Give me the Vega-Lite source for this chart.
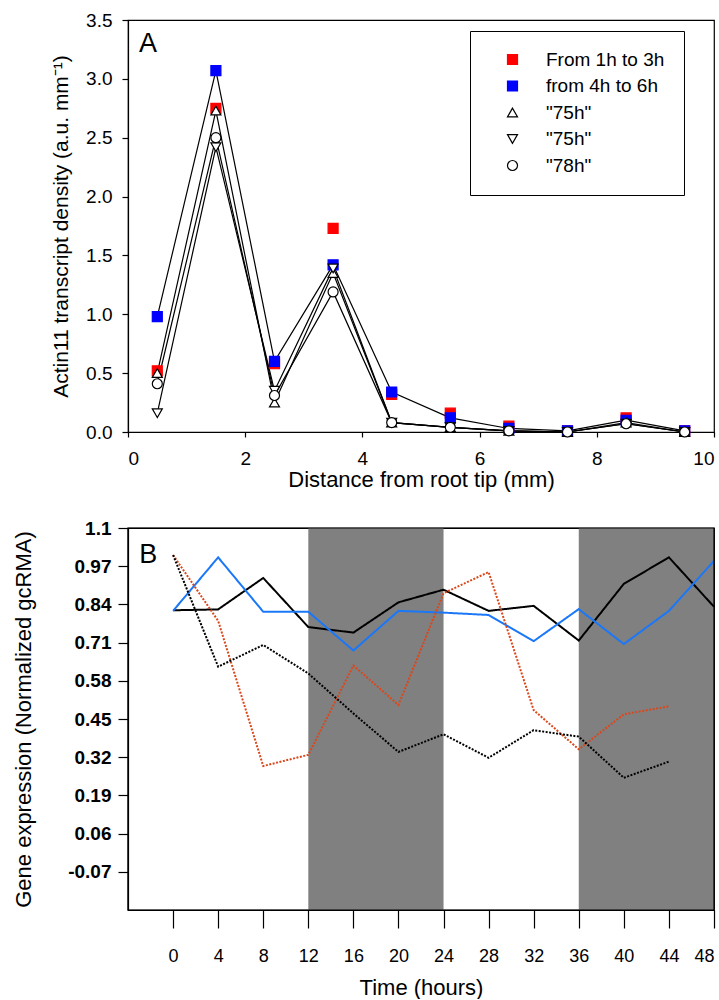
{
  "$schema": "https://vega.github.io/schema/vega-lite/v6.json",
  "padding": {"left": 12, "top": 10, "right": 0, "bottom": 0},
  "spacing": 27,
  "config": {
    "font": "Liberation Sans",
    "view": {"stroke": "black", "strokeWidth": 1.2},
    "axis": {"grid": false, "domainColor": "black", "tickColor": "black", "labelColor": "black", "titleColor": "black", "domainWidth": 1.2, "tickWidth": 1.2, "titleFontWeight": "normal", "labelFont": "Liberation Sans", "titleFont": "Liberation Sans", "zindex": 1},
    "legend": {"orient": "none", "legendX": 342, "legendY": 11, "strokeColor": "black", "fillColor": "white", "padding": 19, "labelFontSize": 19, "labelFont": "Liberation Sans", "labelColor": "black", "symbolSize": 100, "symbolStrokeWidth": 1.2, "rowPadding": 6.5, "symbolOffset": 14, "labelOffset": 24, "labelLimit": 300}
  },
  "vconcat": [
    {
      "width": 586,
      "height": 412,
      "data": {"values": [
        {"series": "a", "x": 0.5, "y": 0.52}, {"series": "a", "x": 1.5, "y": 2.75}, {"series": "a", "x": 2.5, "y": 0.58}, {"series": "a", "x": 3.5, "y": 1.73}, {"series": "a", "x": 4.5, "y": 0.32},
        {"series": "a", "x": 5.5, "y": 0.16}, {"series": "a", "x": 6.5, "y": 0.05}, {"series": "a", "x": 7.5, "y": 0.01}, {"series": "a", "x": 8.5, "y": 0.12}, {"series": "a", "x": 9.5, "y": 0.01},
        {"series": "b", "x": 0.5, "y": 0.98}, {"series": "b", "x": 1.5, "y": 3.07}, {"series": "b", "x": 2.5, "y": 0.60}, {"series": "b", "x": 3.5, "y": 1.42}, {"series": "b", "x": 4.5, "y": 0.34},
        {"series": "b", "x": 5.5, "y": 0.12}, {"series": "b", "x": 6.5, "y": 0.03}, {"series": "b", "x": 7.5, "y": 0.01}, {"series": "b", "x": 8.5, "y": 0.10}, {"series": "b", "x": 9.5, "y": 0.01},
        {"series": "c", "x": 0.5, "y": 0.50}, {"series": "c", "x": 1.5, "y": 2.73}, {"series": "c", "x": 2.5, "y": 0.25}, {"series": "c", "x": 3.5, "y": 1.35}, {"series": "c", "x": 4.5, "y": 0.08},
        {"series": "c", "x": 5.5, "y": 0.04}, {"series": "c", "x": 6.5, "y": 0.01}, {"series": "c", "x": 7.5, "y": 0.0}, {"series": "c", "x": 8.5, "y": 0.08}, {"series": "c", "x": 9.5, "y": 0.0},
        {"series": "d", "x": 0.5, "y": 0.16}, {"series": "d", "x": 1.5, "y": 2.42}, {"series": "d", "x": 2.5, "y": 0.35}, {"series": "d", "x": 3.5, "y": 1.39}, {"series": "d", "x": 4.5, "y": 0.08},
        {"series": "d", "x": 5.5, "y": 0.04}, {"series": "d", "x": 6.5, "y": 0.01}, {"series": "d", "x": 7.5, "y": 0.0}, {"series": "d", "x": 8.5, "y": 0.07}, {"series": "d", "x": 9.5, "y": 0.0},
        {"series": "e", "x": 0.5, "y": 0.41}, {"series": "e", "x": 1.5, "y": 2.50}, {"series": "e", "x": 2.5, "y": 0.31}, {"series": "e", "x": 3.5, "y": 1.19}, {"series": "e", "x": 4.5, "y": 0.08},
        {"series": "e", "x": 5.5, "y": 0.04}, {"series": "e", "x": 6.5, "y": 0.01}, {"series": "e", "x": 7.5, "y": 0.0}, {"series": "e", "x": 8.5, "y": 0.07}, {"series": "e", "x": 9.5, "y": 0.0}
      ]},
      "layer": [
        {
          "transform": [{"filter": "datum.series != 'a'"}],
          "mark": {"type": "line", "color": "black", "strokeWidth": 1.2},
          "encoding": {
            "x": {"field": "x", "type": "quantitative", "scale": {"domain": [0, 10], "nice": false},
              "axis": {"values": [0, 2, 4, 6, 8, 10], "format": "d", "tickSize": 5, "labelFontSize": 19, "labelPadding": 12, "title": "Distance from root tip (mm)", "titleFontSize": 22, "titlePadding": 1}},
            "y": {"field": "y", "type": "quantitative", "scale": {"domain": [0, 3.5], "nice": false},
              "axis": {"values": [0, 0.5, 1, 1.5, 2, 2.5, 3, 3.5], "format": ".1f", "tickSize": 6, "labelFontSize": 19, "labelPadding": 10, "title": "Actin11 transcript density (a.u. mm⁻¹)", "titleFontSize": 21, "titlePadding": 14}},
            "detail": {"field": "series"}
          }
        },
        {
          "mark": {"type": "point", "filled": true, "opacity": 1, "strokeWidth": 1.2},
          "encoding": {
            "x": {"field": "x", "type": "quantitative"},
            "y": {"field": "y", "type": "quantitative"},
            "shape": {"field": "series", "type": "nominal", "scale": {"domain": ["a", "b", "c", "d", "e"], "range": ["square", "square", "triangle-up", "triangle-down", "circle"]},
              "legend": {"title": null,
                "labelExpr": "datum.label == 'a' ? 'From 1h to 3h\u00a0\u00a0\u00a0' : datum.label == 'b' ? 'from 4h to 6h' : datum.label == 'e' ? '\"78h\"' : '\"75h\"'",
                "encode": {"symbols": {"update": {"shape": {"signal": "datum.value == 'a' || datum.value == 'b' ? 'M-4.4,0H-0.9M0.9,0H4.4M-0.85,-0.85H0.85V0.85H-0.85Z' : datum.value == 'c' ? 'M-4.4,0.3H-0.7M0.7,0.3H4.4M0,-0.95L1,0.8H-1Z' : datum.value == 'd' ? 'M-4.4,-0.3H-0.7M0.7,-0.3H4.4M0,0.95L1,-0.8H-1Z' : 'M-4.4,0H-1M1,0H4.4M1,0A1,1,0,1,1,-1,0A1,1,0,1,1,1,0Z'"}}}}}},
            "fill": {"field": "series", "type": "nominal", "scale": {"domain": ["a", "b", "c", "d", "e"], "range": ["#ff0000", "#0000ff", "#ffffff", "#ffffff", "#ffffff"]},
              "legend": {"title": null, "labelExpr": "datum.label == 'a' ? 'From 1h to 3h\u00a0\u00a0\u00a0' : datum.label == 'b' ? 'from 4h to 6h' : datum.label == 'e' ? '\"78h\"' : '\"75h\"'",
                "encode": {"symbols": {"update": {"shape": {"signal": "datum.value == 'a' || datum.value == 'b' ? 'M-4.4,0H-0.9M0.9,0H4.4M-0.85,-0.85H0.85V0.85H-0.85Z' : datum.value == 'c' ? 'M-4.4,0.3H-0.7M0.7,0.3H4.4M0,-0.95L1,0.8H-1Z' : datum.value == 'd' ? 'M-4.4,-0.3H-0.7M0.7,-0.3H4.4M0,0.95L1,-0.8H-1Z' : 'M-4.4,0H-1M1,0H4.4M1,0A1,1,0,1,1,-1,0A1,1,0,1,1,1,0Z'"}}}}}},
            "stroke": {"field": "series", "type": "nominal", "scale": {"domain": ["a", "b", "c", "d", "e"], "range": ["#ff0000", "#0000ff", "#000000", "#000000", "#000000"]},
              "legend": {"title": null, "labelExpr": "datum.label == 'a' ? 'From 1h to 3h\u00a0\u00a0\u00a0' : datum.label == 'b' ? 'from 4h to 6h' : datum.label == 'e' ? '\"78h\"' : '\"75h\"'",
                "encode": {"symbols": {"update": {"shape": {"signal": "datum.value == 'a' || datum.value == 'b' ? 'M-4.4,0H-0.9M0.9,0H4.4M-0.85,-0.85H0.85V0.85H-0.85Z' : datum.value == 'c' ? 'M-4.4,0.3H-0.7M0.7,0.3H4.4M0,-0.95L1,0.8H-1Z' : datum.value == 'd' ? 'M-4.4,-0.3H-0.7M0.7,-0.3H4.4M0,0.95L1,-0.8H-1Z' : 'M-4.4,0H-1M1,0H4.4M1,0A1,1,0,1,1,-1,0A1,1,0,1,1,1,0Z'"}}}}}},
            "size": {"value": 100}
          }
        },
        {
          "data": {"values": [{"label": "A"}]},
          "mark": {"type": "text", "fontSize": 27, "align": "center", "baseline": "middle", "font": "Liberation Sans"},
          "encoding": {
            "x": {"datum": 0.34, "type": "quantitative"},
            "y": {"datum": 3.3, "type": "quantitative"},
            "text": {"field": "label"}
          }
        }
      ]
    },
    {
      "width": 586,
      "height": 382,
      "layer": [
        {
          "data": {"values": [{"start": 12, "end": 24}, {"start": 36, "end": 48}]},
          "mark": {"type": "rect", "color": "#808080"},
          "encoding": {
            "x": {"field": "start", "type": "quantitative"},
            "x2": {"field": "end"},
            "y": {"datum": 1.1, "type": "quantitative"},
            "y2": {"datum": -0.2}
          }
        },
        {
          "data": {"values": [
            {"s": "bs", "t": 0, "v": 0.82}, {"s": "bs", "t": 4, "v": 0.823}, {"s": "bs", "t": 8, "v": 0.93}, {"s": "bs", "t": 12, "v": 0.763}, {"s": "bs", "t": 16, "v": 0.744},
            {"s": "bs", "t": 20, "v": 0.847}, {"s": "bs", "t": 24, "v": 0.89}, {"s": "bs", "t": 28, "v": 0.818}, {"s": "bs", "t": 32, "v": 0.835}, {"s": "bs", "t": 36, "v": 0.717},
            {"s": "bs", "t": 40, "v": 0.91}, {"s": "bs", "t": 44, "v": 1.0}, {"s": "bs", "t": 48, "v": 0.832},
            {"s": "bl", "t": 0, "v": 0.818}, {"s": "bl", "t": 4, "v": 1.0}, {"s": "bl", "t": 8, "v": 0.815}, {"s": "bl", "t": 12, "v": 0.815}, {"s": "bl", "t": 16, "v": 0.683},
            {"s": "bl", "t": 20, "v": 0.818}, {"s": "bl", "t": 24, "v": 0.812}, {"s": "bl", "t": 28, "v": 0.804}, {"s": "bl", "t": 32, "v": 0.715}, {"s": "bl", "t": 36, "v": 0.824},
            {"s": "bl", "t": 40, "v": 0.705}, {"s": "bl", "t": 44, "v": 0.818}, {"s": "bl", "t": 48, "v": 0.988},
            {"s": "od", "t": 0, "v": 1.008}, {"s": "od", "t": 4, "v": 0.784}, {"s": "od", "t": 8, "v": 0.29}, {"s": "od", "t": 12, "v": 0.328}, {"s": "od", "t": 16, "v": 0.632},
            {"s": "od", "t": 20, "v": 0.498}, {"s": "od", "t": 24, "v": 0.878}, {"s": "od", "t": 28, "v": 0.95}, {"s": "od", "t": 32, "v": 0.48}, {"s": "od", "t": 36, "v": 0.347},
            {"s": "od", "t": 40, "v": 0.466}, {"s": "od", "t": 44, "v": 0.493},
            {"s": "kd", "t": 0, "v": 1.008}, {"s": "kd", "t": 4, "v": 0.628}, {"s": "kd", "t": 8, "v": 0.702}, {"s": "kd", "t": 12, "v": 0.605}, {"s": "kd", "t": 16, "v": 0.469},
            {"s": "kd", "t": 20, "v": 0.338}, {"s": "kd", "t": 24, "v": 0.398}, {"s": "kd", "t": 28, "v": 0.318}, {"s": "kd", "t": 32, "v": 0.412}, {"s": "kd", "t": 36, "v": 0.39},
            {"s": "kd", "t": 40, "v": 0.25}, {"s": "kd", "t": 44, "v": 0.305}
          ]},
          "mark": {"type": "line", "strokeWidth": 2},
          "encoding": {
            "x": {"field": "t", "type": "quantitative", "scale": {"domain": [-4, 48], "nice": false},
              "axis": {"values": [0, 4, 8, 12, 16, 20, 24, 28, 32, 36, 40, 44, 48], "format": "d", "tickSize": 18, "labelFontSize": 18, "labelPadding": 19, "title": "Time (hours)", "titleFontSize": 22, "titlePadding": 12}},
            "y": {"field": "v", "type": "quantitative", "scale": {"domain": [-0.2, 1.1], "nice": false, "zero": false},
              "axis": {"values": [-0.07, 0.06, 0.19, 0.32, 0.45, 0.58, 0.71, 0.84, 0.97, 1.1], "labelExpr": "'' + datum.value", "tickSize": 10, "labelFontSize": 19, "labelFontWeight": "bold", "labelPadding": 7, "title": "Gene expression (Normalized gcRMA)", "titleFontSize": 22, "titlePadding": 32}},
            "stroke": {"field": "s", "type": "nominal", "scale": {"domain": ["bs", "bl", "od", "kd"], "range": ["#000000", "#1a78f8", "#d9471a", "#000000"]}, "legend": null},
            "strokeDash": {"field": "s", "type": "nominal", "scale": {"domain": ["bs", "bl", "od", "kd"], "range": [[1, 0], [1, 0], [2, 1.5], [2, 1.5]]}, "legend": null}
          }
        },
        {
          "data": {"values": [{"f": 1}]},
          "mark": {"type": "rect", "fillOpacity": 0, "stroke": "black", "strokeWidth": 1.2},
          "encoding": {
            "x": {"datum": -4, "type": "quantitative"},
            "x2": {"datum": 48},
            "y": {"datum": 1.1, "type": "quantitative"},
            "y2": {"datum": -0.2}
          }
        },
        {
          "data": {"values": [{"label": "B"}]},
          "mark": {"type": "text", "fontSize": 27, "align": "center", "baseline": "middle", "font": "Liberation Sans"},
          "encoding": {
            "x": {"datum": -2.2, "type": "quantitative"},
            "y": {"datum": 1.008, "type": "quantitative"},
            "text": {"field": "label"}
          }
        }
      ]
    }
  ],
  "resolve": {"scale": {"stroke": "independent", "strokeDash": "independent", "shape": "independent", "fill": "independent"}}
}
